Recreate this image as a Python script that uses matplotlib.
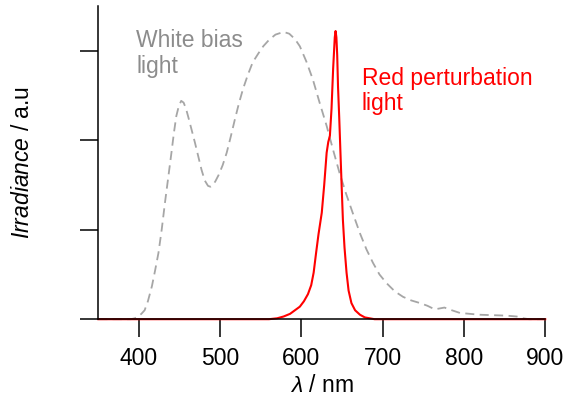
import numpy as np
import matplotlib
matplotlib.use('Agg')
import matplotlib.pyplot as plt

plt.rcParams['font.family'] = ['Liberation Sans', 'DejaVu Sans']
plt.rcParams['mathtext.fontset'] = 'custom'
plt.rcParams['mathtext.rm'] = 'Liberation Sans'
plt.rcParams['mathtext.it'] = 'Liberation Sans:italic'

# white bias light spectrum
white_wl = [350, 390, 395, 399, 403, 407, 411, 416, 420, 424, 428, 432, 436, 440, 443,
            446, 449, 452, 455, 458, 461, 465, 469, 473, 477, 481, 485, 488, 491, 494,
            498, 503, 508, 513, 518, 523, 528, 534, 540, 547, 553, 560, 568, 578, 585,
            592, 598, 606, 614, 622, 631, 639, 647, 655, 663, 672, 680, 688, 696, 705,
            715, 725, 735, 746, 755, 764, 770, 776, 785, 795, 807, 819, 835, 852, 865,
            873, 880, 900]
white_val = [0.0, 0.0, 0.01, 0.03, 0.06, 0.10, 0.20, 0.37, 0.55, 0.74, 1.00, 1.30, 1.58, 1.86, 2.08,
             2.27, 2.38, 2.44, 2.42, 2.35, 2.25, 2.11, 1.97, 1.82, 1.67, 1.55, 1.49, 1.48, 1.50, 1.54,
             1.61, 1.72, 1.86, 2.04, 2.23, 2.41, 2.57, 2.73, 2.87, 2.97, 3.05, 3.12, 3.18, 3.21, 3.19,
             3.13, 3.05, 2.88, 2.68, 2.43, 2.16, 1.89, 1.63, 1.40, 1.19, 0.96, 0.78, 0.63, 0.50, 0.40,
             0.31, 0.25, 0.21, 0.18, 0.15, 0.11, 0.12, 0.13, 0.10, 0.07, 0.06, 0.05, 0.045, 0.04, 0.03,
             0.01, 0.0, 0.0]

# red perturbation light spectrum
red_wl = [350, 560, 570, 578, 586, 592, 598, 603, 608, 612, 615, 618, 621, 625, 628,
          631, 633, 635, 637, 639, 641, 642, 643, 644, 645, 646.5, 648, 649.5, 651, 653,
          655.5, 658, 661.5, 666, 672, 678, 690, 900]
red_val = [0, 0, 0.01, 0.03, 0.06, 0.10, 0.14, 0.20, 0.28, 0.38, 0.52, 0.74, 0.95, 1.19, 1.50,
           1.86, 1.98, 2.05, 2.35, 2.80, 3.15, 3.22, 3.15, 2.95, 2.60, 2.25, 1.86, 1.48, 1.11, 0.80,
           0.52, 0.32, 0.18, 0.10, 0.05, 0.02, 0.0, 0.0]

xticks = [400, 500, 600, 700, 800, 900]
yticks = [0, 1, 2, 3]

fig = plt.figure(figsize=(5.65, 3.98), dpi=100)
ax = fig.add_axes([0.174, 0.198, 0.791, 0.787])

ax.plot(white_wl, white_val, color='#a6a6a6', lw=1.3, ls=(0, (5, 3)), clip_on=False)
ax.plot(red_wl, red_val, color='#ff0000', lw=1.5, clip_on=False)

ax.set_xlim(350, 900)
ax.set_ylim(0, 3.5)
ax.set_xticks(xticks)
ax.set_yticks(yticks)
ax.set_yticklabels([])
ax.spines['top'].set_visible(False)
ax.spines['right'].set_visible(False)
for s in ['left', 'bottom']:
    ax.spines[s].set_linewidth(1.1)
ax.tick_params(axis='both', direction='out', length=13, width=1.1, labelsize=16.5, pad=7)

ax.set_xlabel(r'$\lambda$ / nm', fontsize=16.5, labelpad=3)
ax.set_ylabel(r'$Irradiance$ / a.u', fontsize=16.5, labelpad=26)

ax.text(0.085, 0.925, 'White bias\nlight', transform=ax.transAxes, color='#8c8c8c',
        fontsize=16.5, va='top', ha='left', linespacing=1.12)
ax.text(0.59, 0.806, 'Red perturbation\nlight', transform=ax.transAxes, color='#ff0000',
        fontsize=16.5, va='top', ha='left', linespacing=1.12)

fig.savefig('out.png', dpi=100)
